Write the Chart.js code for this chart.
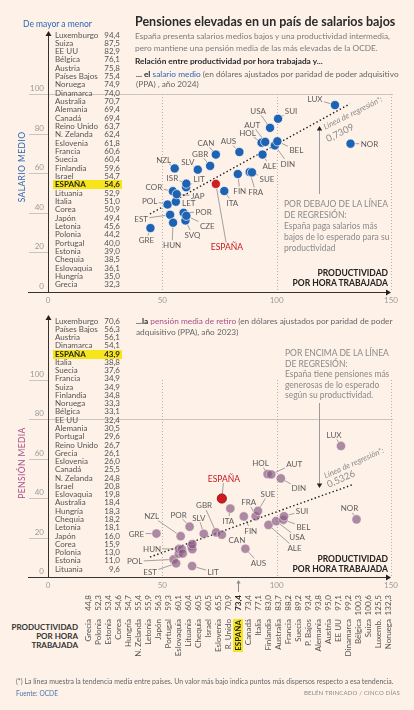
<!DOCTYPE html>
<html><head><meta charset="utf-8">
<script src="https://cdn.jsdelivr.net/npm/chart.js@4.4.1/dist/chart.umd.min.js"></script>
<style>
html,body{margin:0;padding:0;background:#fdf1e8;}
#wrap{position:relative;width:414px;height:710px;overflow:hidden;font-family:Lato,'Open Sans',sans-serif;color:#333;background:#fdf1e8;}
canvas{position:absolute;left:0;}
.t{position:absolute;white-space:nowrap;}
.blue{color:#2c68b4;}
.pur{color:#a84f88;}
.row{position:absolute;left:55px;width:65px;height:9px;line-height:9px;font-size:8px;color:#555;display:flex;justify-content:space-between;}
.row.es{left:53px;width:65px;padding:0 2px;background:#f6e51a;color:#222;font-weight:700;}
.ax{position:absolute;font-size:8.5px;letter-spacing:0.4px;transform:translate(-50%,-50%) rotate(-90deg);white-space:nowrap;}
#ptab{position:absolute;left:83px;top:668px;width:73px;height:310px;transform-origin:0 0;transform:rotate(-90deg);font-size:8px;color:#555;}
.pr{display:flex;height:10px;line-height:10px;}
.pn{flex:1;text-align:right;padding-right:1px;}
.pv{width:23px;text-align:right;}
.hl{background:#f6e51a;color:#222;font-weight:700;padding:0 1px;}
</style></head><body><div id="wrap">
<canvas id="c1" width="414" height="310" style="top:0"></canvas>
<canvas id="c2" width="414" height="300" style="top:300px"></canvas>

<div class="t blue" style="left:23px;top:19px;font-size:8.5px;line-height:10px;">De mayor a menor</div>
<div class="t" style="left:135px;top:14px;font-size:12.5px;line-height:16px;font-weight:700;color:#2a2a2a;">Pensiones elevadas en un país de salarios bajos</div>
<div class="t" style="left:135px;top:31px;font-size:8.3px;line-height:11.5px;color:#7c7c7c;">España presenta salarios medios bajos y una productividad intermedia,<br>pero mantiene una pensión media de las más elevadas de la OCDE.</div>
<div class="t" style="left:135px;top:56px;font-size:8.3px;line-height:10px;font-weight:700;color:#2a2a2a;">Relación entre productividad por hora trabajada y...</div>
<div class="t" style="left:136px;top:69px;font-size:8.3px;line-height:10px;color:#666;"><b style="color:#2a2a2a">... el</b> <span class="blue">salario medio</span> (en dólares ajustados por paridad de poder adquisitivo<br>(PPA) , año 2024)</div>

<div class="ax blue" style="left:22px;top:167px;">SALARIO MEDIO</div>
<div class="t" style="right:26px;top:268px;font-size:8.5px;line-height:10px;font-weight:700;color:#222;text-align:right;">PRODUCTIVIDAD<br>POR HORA TRABAJADA</div>
<div class="t" style="left:284px;top:198.5px;font-size:8.5px;line-height:11px;color:#8a8a8a;">POR DEBAJO DE LA LÍNEA<br>DE REGRESIÓN:<br>España paga salarios más<br>bajos de lo esperado para su<br>productividad</div>

<div class="t" style="left:136px;top:315.5px;font-size:8.3px;line-height:11px;color:#666;"><b style="color:#2a2a2a">...la</b> <span class="pur">pensión media de retiro</span> (en dólares ajustados por paridad de poder<br>adquisitivo (PPA), año 2023)</div>
<div class="t" style="left:285px;top:348px;font-size:8.5px;line-height:10.5px;color:#8a8a8a;">POR ENCIMA DE LA LÍNEA<br>DE REGRESIÓN:<br>España tiene pensiones más<br>generosas de lo esperado<br>según su productividad.</div>
<div class="ax pur" style="left:22px;top:463px;">PENSIÓN MEDIA</div>
<div class="t" style="right:26px;top:554px;font-size:8.5px;line-height:10px;font-weight:700;color:#222;text-align:right;">PRODUCTIVIDAD<br>POR HORA TRABAJADA</div>

<div class="t" style="right:336px;top:622.5px;font-size:8px;line-height:9px;font-weight:700;color:#333;text-align:right;">PRODUCTIVIDAD<br>POR HORA<br>TRABAJADA</div>
<div id="ptab"></div>

<div class="t" style="left:16px;top:676px;font-size:6.95px;line-height:10px;color:#666;">(*) La línea muestra la tendencia media entre países. Un valor más bajo indica puntos más dispersos respecto a esa tendencia.</div>
<div class="t" style="left:16px;top:689px;font-size:6.6px;line-height:8px;color:#4d76ae;">Fuente: OCDE</div>
<div class="t" style="right:14px;top:689px;font-size:6px;line-height:8px;color:#8a8a8a;letter-spacing:0.2px;">BELÉN TRINCADO / CINCO DÍAS</div>
</div>
<script>
// ---------- DATA ----------
const countries = ['Grecia','Polonia','Estonia','Corea','Hungría','N. Zelanda','Letonia','Japón','Portugal','Eslovaquia','Lituania','Chequia','Israel','Eslovenia','Reino Unido','ESPAÑA','Canadá','Italia','Finlandia','Australia','Francia','Suecia','Países Bajos','Alemania','Austria','EE UU','Dinamarca','Bélgica','Suiza','Luxemburgo','Noruega'];
const shortNames = ['Grecia','Polonia','Estonia','Corea','Hungría','N. Zelanda','Letonia','Japón','Portugal','Eslovaquia','Lituania','Chequia','Israel','Eslovenia','R. Unido','ESPAÑA','Canadá','Italia','Finlandia','Australia','Francia','Suecia','P. Bajos','Alemania','Austria','EE UU','Dinamarca','Bélgica','Suiza','Luxemb.','Noruega'];
const codes = ['GRE','POL','EST','COR','HUN','NZL','LET','JAP','POR','SVQ','LIT','CZE','ISR','SLV','GBR','ESPAÑA','CAN','ITA','FIN','AUS','FRA','SUE','HOL','ALE','AUT','USA','DIN','BEL','SUI','LUX','NOR'];
const productivity = [44.8,52.3,53.4,54.6,54.7,55.4,55.9,56.3,59.3,60.1,60.4,60.5,60.5,65.5,70.9,73.4,73.4,77.1,83.0,83.7,88.2,89.2,93.4,93.8,95.0,97.1,99.2,100.3,100.6,125.5,132.3];
const salary = [32.3,44.2,39.0,50.9,35.0,62.4,45.6,49.4,40.0,36.1,52.9,38.5,54.7,61.8,63.7,54.6,69.4,51.0,59.6,70.7,60.6,60.4,75.4,69.4,75.8,82.9,74.0,76.1,87.5,94.4,74.9];
const pension = [26.1,13.0,11.0,15.9,18.3,24.8,18.1,16.0,29.6,19.8,9.6,18.2,20.8,26.0,26.7,43.9,25.5,38.8,34.8,18.4,34.9,37.6,56.3,30.5,56.1,32.4,54.1,33.1,34.9,70.6,33.3];
const regLineSalary = [{x:44.6,y:39.4},{x:132,y:95}];
const regLinePension = [{x:42,y:14.2},{x:130.3,y:50.8}];
const regSalaryLabel = '0,7309';
const regPensionLabel = '0,5326';
const xTicks = [0,50,100,150];
const yTicks = [0,20,40,60,80,100];

// ---------- label placement (offsets in px from each point) ----------
const labelTop = {LUX:[-20,-6],SUI:[13,-8],USA:[-12,-17],AUT:[-13,-17],HOL:[-14,-10],BEL:[19,9],DIN:[13,18],ALE:[7,11],NOR:[19,0],CAN:[-10,-12],AUS:[-11,-11],GBR:[-10,-12],SLV:[-10,-8],NZL:[-11,-9],SUE:[15,7],FRA:[6,20],FIN:[2,17],ISR:[-14,-6],LIT:[13,-8],'ESPAÑA':[11,63],ITA:[8,12],COR:[-19,-4],JAP:[21,2],LET:[13,1],POL:[-18,-4],POR:[20,-1],EST:[-29,4],CZE:[21,10],SVQ:[7,14],HUN:[-1,22],GRE:[-4,12]};
const labelBot = {LUX:[-7,-11],HOL:[-7,-11],AUT:[23,-11],DIN:[18,10],'ESPAÑA':[2,-20],SUE:[10,-17],FRA:[-7,-14],FIN:[7,14],ITA:[-2,12],SUI:[18,-5],BEL:[20,7],USA:[21,16],ALE:[26,23],NOR:[-7,-11],GBR:[-12,-27],CAN:[15,5],AUS:[13,14],SLV:[-5,-16],POR:[-11,-12],NZL:[-29,-20],GRE:[-20,0],HUN:[-27,0],POL:[-39,2],EST:[-26,9],LIT:[21,6]};

const fmt = v => v.toFixed(1).replace('.',',');
const wrap = document.getElementById('wrap');

// ---------- ranked lists ----------
function buildList(values, top0, step){
  const idx = countries.map((c,i)=>i).sort((a,b)=> (values[b]-values[a]) || countries[a].localeCompare(countries[b],'es'));
  idx.forEach((i,k)=>{
    const d=document.createElement('div');
    d.className='row'+(countries[i]==='ESPAÑA'?' es':'');
    d.style.top=(top0+k*step-4.5)+'px';
    d.innerHTML='<span>'+countries[i]+'</span><span>'+fmt(values[i])+'</span>';
    wrap.appendChild(d);
  });
}
buildList(salary,35,8.33);
buildList(pension,321,8.27);

// ---------- productivity table ----------
const pt=document.getElementById('ptab');
shortNames.forEach((n,i)=>{
  const r=document.createElement('div'); r.className='pr';
  const es=n==='ESPAÑA';
  r.innerHTML='<span class="pn">'+(es?'<span class="hl">'+n+'</span>':n)+'</span><span class="pv"'+(es?' style="font-weight:700;color:#222"':'')+'>'+fmt(productivity[i])+'</span>';
  pt.appendChild(r);
});

// ---------- drawing helpers ----------
function tri(ctx,x,y,dir,s){
  ctx.beginPath();
  if(dir==='up'){ctx.moveTo(x,y);ctx.lineTo(x-s*0.6,y+s);ctx.lineTo(x+s*0.6,y+s);}
  else if(dir==='down'){ctx.moveTo(x,y);ctx.lineTo(x-s*0.6,y-s);ctx.lineTo(x+s*0.6,y-s);}
  else {ctx.moveTo(x,y);ctx.lineTo(x-s,y-s*0.6);ctx.lineTo(x-s,y+s*0.6);}
  ctx.closePath();ctx.fill();
}
function pointLabels(chart, offs, phase, r){
  const ctx=chart.ctx, meta=chart.getDatasetMeta(0);
  ctx.save();
  meta.data.forEach((el,i)=>{
    const c=codes[i], o=offs[c]; if(!o) return;
    const isE=c==='ESPAÑA';
    ctx.font=isE?'8.5px Lato':'8px Lato';
    const px=el.x, py=el.y, lx=px+o[0], ly=py+o[1];
    if(phase===0){
      const hw=ctx.measureText(c).width/2+1.5, hh=4.5;
      const dx=lx-px, dy=ly-py, len=Math.hypot(dx,dy);
      const f=Math.min(dx?hw/Math.abs(dx):Infinity, dy?hh/Math.abs(dy):Infinity);
      if(f>=1) return;
      const ex=lx-dx*f, ey=ly-dy*f;
      if(Math.hypot(ex-px,ey-py)<r+1) return;
      ctx.strokeStyle='#8c8c8c'; ctx.lineWidth=0.8;
      ctx.beginPath(); ctx.moveTo(px+dx/len*r,py+dy/len*r); ctx.lineTo(ex,ey); ctx.stroke();
    } else {
      ctx.fillStyle=isE?'#c5161d':'#5c5c5c';
      ctx.textAlign='center'; ctx.textBaseline='middle';
      ctx.fillText(c,lx,ly+0.5);
    }
  });
  ctx.restore();
}
function decor(o){
  return {
    id:'decor',
    beforeDatasetsDraw(chart){
      const ctx=chart.ctx, a=chart.chartArea, x=chart.scales.x, y=chart.scales.y;
      ctx.save();
      ctx.strokeStyle='#cdc4bd'; ctx.lineWidth=1;
      yTicks.forEach(v=>{
        const py=Math.round(y.getPixelForValue(v)+o.gy)+0.5;
        ctx.beginPath(); ctx.moveTo(29,py); ctx.lineTo(v===o.full?o.fullRight:a.left,py); ctx.stroke();
      });
      ctx.fillStyle='#9b9b9b'; ctx.font='8px Lato'; ctx.textAlign='right'; ctx.textBaseline='middle';
      yTicks.forEach(v=>{ ctx.fillText(String(v),44,y.getPixelForValue(v)+o.gy-5.5); });
      ctx.setLineDash([1,2]); ctx.strokeStyle='#b9b0a9';
      xTicks.slice(1).forEach(v=>{
        const px=Math.round(x.getPixelForValue(v)+o.gx)+0.5;
        ctx.beginPath(); ctx.moveTo(px,y.getPixelForValue(o.vTop)+o.gy); ctx.lineTo(px,a.bottom); ctx.stroke();
      });
      ctx.setLineDash([]);
      ctx.textAlign='center';
      xTicks.forEach(v=>{ ctx.fillText(String(v),x.getPixelForValue(v)+o.gx,a.bottom+8.5); });
      ctx.strokeStyle='#333'; ctx.fillStyle='#222'; ctx.lineWidth=1;
      const by=Math.round(a.bottom)+0.5, lx=Math.round(a.left)+0.5;
      ctx.beginPath(); ctx.moveTo(28,by); ctx.lineTo(386,by); ctx.stroke();
      tri(ctx,391,by,'right',5);
      ctx.beginPath(); ctx.moveTo(lx,by); ctx.lineTo(lx,o.yArrow+4); ctx.stroke();
      tri(ctx,lx,o.yArrow,'up',5);
      ctx.strokeStyle='#9a9a9a';
      ctx.beginPath(); ctx.moveTo(319.5,o.annFrom); ctx.lineTo(319.5,o.annTo+(o.annDir==='up'?3:-3)); ctx.stroke();
      ctx.fillStyle='#222'; tri(ctx,319.5,o.annTo,o.annDir,4.5);
      if(o.extra) o.extra(ctx);
      ctx.save(); ctx.fillStyle='#8c8c8c';
      ctx.translate(o.reg1[0],o.reg1[1]); ctx.rotate(o.regAng); ctx.font='italic 8px Lato'; ctx.textAlign='center';
      ctx.fillText('Línea de regresión*:',0,0); ctx.restore();
      ctx.save(); ctx.fillStyle='#8c8c8c';
      ctx.translate(o.reg2[0],o.reg2[1]); ctx.rotate(o.regAng); ctx.font='9.5px Lato'; ctx.textAlign='center';
      ctx.fillText(o.regText,0,0); ctx.restore();
      ctx.restore();
      pointLabels(chart,o.labels,0,4.6);
    },
    afterDatasetsDraw(chart){ pointLabels(chart,o.labels,1,4.6); }
  };
}

const base={responsive:false,animation:false,events:[],plugins:{legend:{display:false},tooltip:{enabled:false}}};

new Chart(document.getElementById('c1'),{
  type:'scatter',
  data:{datasets:[
    {data:codes.map((c,i)=>({x:productivity[i],y:salary[i]})),pointRadius:4.6,
     pointBackgroundColor:codes.map(c=>c==='ESPAÑA'?'#cf1d23':'#1e63b2'),
     pointBorderColor:'rgba(255,255,255,0.85)',pointBorderWidth:0.8,order:0},
    {type:'line',data:regLineSalary,borderColor:'#1c1c1c',borderWidth:1.4,borderDash:[1.4,2.4],pointRadius:0,fill:false,order:1}
  ]},
  options:Object.assign({},base,{
    layout:{padding:{left:48,right:23,top:94,bottom:18}},
    scales:{x:{type:'linear',min:0,max:150,display:false},y:{type:'linear',min:0,max:100,display:false}}
  }),
  plugins:[decor({gx:0,gy:0,full:100,fullRight:393,vTop:100,yArrow:31,annFrom:194,annTo:126,annDir:'up',
    reg1:[353,113],reg2:[340,133],regAng:-0.46,regText:regSalaryLabel,labels:labelTop})]
});

new Chart(document.getElementById('c2'),{
  type:'scatter',
  data:{datasets:[
    {data:codes.map((c,i)=>({x:productivity[i],y:pension[i]})),pointRadius:4.6,
     pointBackgroundColor:codes.map(c=>c==='ESPAÑA'?'#d3181e':'rgba(136,88,128,0.68)'),
     pointBorderColor:codes.map(c=>c==='ESPAÑA'?'#8e1014':'rgba(255,255,255,0.45)'),pointBorderWidth:0.9,order:0},
    {type:'line',data:regLinePension,borderColor:'#1c1c1c',borderWidth:1.4,borderDash:[1.4,2.4],pointRadius:0,fill:false,order:1}
  ]},
  options:Object.assign({},base,{
    layout:{padding:{left:48,right:17,top:80,bottom:23}},
    scales:{x:{type:'linear',min:-2.62,max:150,display:false},y:{type:'linear',min:4.06,max:104.06,display:false}}
  }),
  plugins:[decor({gx:-6,gy:-8,full:80,fullRight:393,vTop:100,yArrow:15,annFrom:103,annTo:188,annDir:'down',
    reg1:[354,163],reg2:[341,179],regAng:-0.42,regText:regPensionLabel,labels:labelBot,
    extra:(ctx)=>{ctx.strokeStyle='#8a8a8a';ctx.beginPath();ctx.moveTo(238.5,292);ctx.lineTo(238.5,283);ctx.stroke();ctx.fillStyle='#8a8a8a';tri(ctx,238.5,280,'up',3.5);}})]
});
</script>
</body></html>
